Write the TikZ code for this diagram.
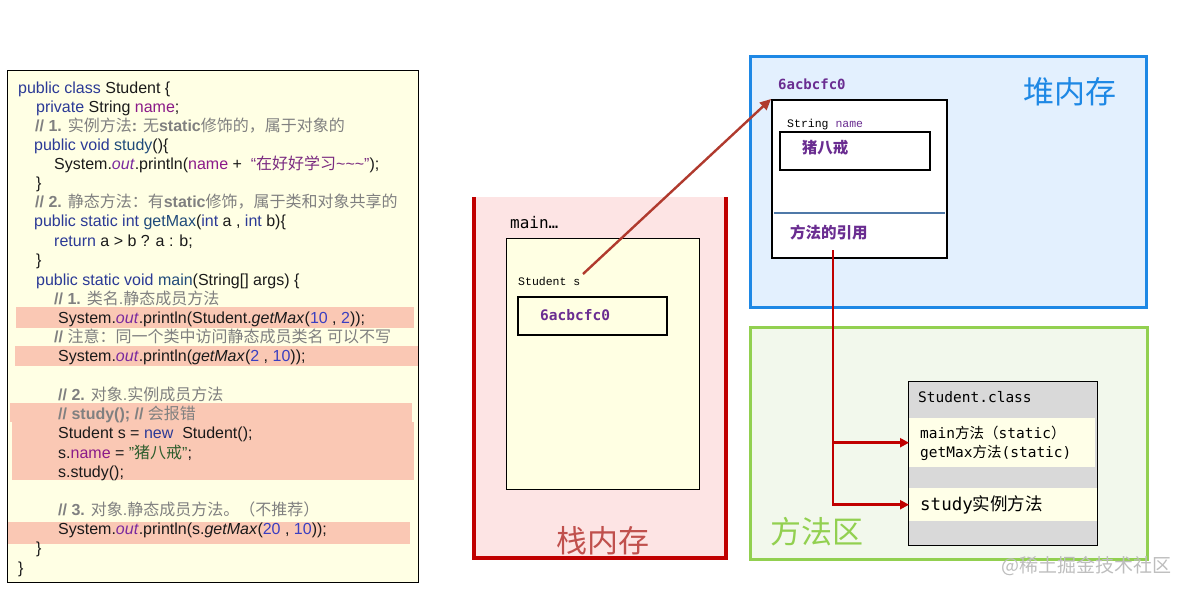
\documentclass[tikz,border=0pt]{standalone}
\usepackage{fontspec}
\setmainfont{Liberation Sans}
\setmonofont{DejaVu Sans Mono}
\newfontfamily\cjk{Noto Sans CJK SC}
\newfontfamily\lmono{Liberation Mono}
\usetikzlibrary{arrows.meta}
\definecolor{kwc}{HTML}{2B3A96}
\definecolor{mtc}{HTML}{1F4A7A}
\definecolor{flc}{HTML}{8B1A89}
\definecolor{otc}{HTML}{7A2A9E}
\definecolor{nmc}{HTML}{3B3FC0}
\definecolor{stc}{HTML}{7A2A80}
\definecolor{st2c}{HTML}{2E5E2E}
\definecolor{cmc}{HTML}{808080}
\definecolor{txtc}{HTML}{1A1A1A}
\definecolor{codebg}{HTML}{FFFFE4}
\definecolor{hilite}{HTML}{FAC8B4}
\definecolor{stackbg}{HTML}{FDE4E4}
\definecolor{stackred}{HTML}{C00000}
\definecolor{framebg}{HTML}{FFFFE3}
\definecolor{purp}{HTML}{6A2D91}
\definecolor{heapbg}{HTML}{E3F0FE}
\definecolor{heapblue}{HTML}{1E88E5}
\definecolor{sepblue}{HTML}{4F79A8}
\definecolor{methbg}{HTML}{F2F8EC}
\definecolor{methgreen}{HTML}{92D050}
\definecolor{classgray}{HTML}{D9D9D9}
\definecolor{bandbg}{HTML}{FFFFE8}
\definecolor{arrowred}{HTML}{B03A2E}
\definecolor{stacklbl}{HTML}{C0504D}
\definecolor{wmark}{HTML}{BDBDBD}
\newcommand\zh[1]{{\cjk #1}}
\newcommand\kw[1]{\textcolor{kwc}{#1}}
\newcommand\mt[1]{\textcolor{mtc}{#1}}
\newcommand\fl[1]{\textcolor{flc}{#1}}
\newcommand\ot{\textcolor{otc}{\textit{out}}}
\newcommand\nm[1]{\textcolor{nmc}{#1}}
\newcommand\cm[1]{\textcolor{cmc}{#1}}
\tikzset{
  codeline/.style={anchor=base west, inner sep=0pt, text=txtc, font=\fontsize{16}{19}\selectfont},
  hibar/.style={fill=hilite, draw=none},
  bigzh/.style={inner sep=0pt, font=\cjk\fontsize{31}{34}\selectfont},
  redline/.style={draw=stackred, line width=2.6pt},
  redarrow/.style={redline, -{Triangle[length=9pt,width=9pt]}},
  refarrow/.style={draw=arrowred, line width=2.4pt, -{Triangle[length=11pt,width=10pt]}},
  monotxt/.style={anchor=base west, inner sep=0pt},
  thickbox/.style={draw=black, line width=2pt, inner sep=0pt, anchor=north west},
}
\begin{document}
\begin{tikzpicture}[x=1pt,y=-1pt]
\useasboundingbox (0,0) rectangle (1185,594);

% ---------------- code panel ----------------
\filldraw[fill=codebg, draw=black, line width=0.8pt] (7,70) rectangle (418,582);
\fill[hibar] (16,307) rectangle (414,328);
\fill[hibar] (15,346) rectangle (418,366);
\fill[hibar] (10,403) rectangle (412,422);
\fill[hibar] (12,422) rectangle (414,480);
\fill[hibar] (8,522) rectangle (410,544);

\node[codeline] (c1) at (18,93) {\kw{public class} Student \{};
\node[codeline] (c2) at (36,112) {\kw{private} String \fl{name};};
\node[codeline] (c3) at (35,131) {\cm{\textbf{// 1.} \zh{实例方法}\textbf{:} \zh{无}\textbf{static}\zh{修饰的，属于对象的}}};
\node[codeline] (c4) at (34,150) {\kw{public void} \mt{study}()\{};
\node[codeline] (c5) at (54,169) {System.\ot.println(\fl{name} +\ \ \textcolor{stc}{“\zh{在好好学习}\textasciitilde\textasciitilde\textasciitilde”});};
\node[codeline] (c6) at (36,188) {\}};
\node[codeline] (c7) at (35,207) {\cm{\textbf{// 2.} \zh{静态方法：有}\textbf{static}\zh{修饰，属于类和对象共享的}}};
\node[codeline] (c8) at (34,226) {\kw{public static int} \mt{getMax}(\kw{int} a , \kw{int} b)\{};
\node[codeline] (c9) at (54,246) {\kw{return} a > b ? a : b;};
\node[codeline] (c10) at (36,265) {\}};
\node[codeline] (c11) at (36,285) {\kw{public static void} \mt{main}(String[] args) \{};
\node[codeline] (c12) at (54,304) {\cm{\textbf{// 1.} \zh{类名}.\zh{静态成员方法}}};
\node[codeline] (c13) at (58,323) {System.\ot.println(Student.\textit{getMax}(\nm{10} , \nm{2}));};
\node[codeline] (c14) at (54,342) {\cm{\textbf{//} \zh{注意：同一个类中访问静态成员类名 可以不写}}};
\node[codeline] (c15) at (58,361) {System.\ot.println(\textit{getMax}(\nm{2} , \nm{10}));};
\node[codeline] (c16) at (58,400) {\cm{\textbf{// 2.} \zh{对象}.\zh{实例成员方法}}};
\node[codeline] (c17) at (58,419) {\cm{\textbf{// study(); //} \zh{会报错}}};
\node[codeline] (c18) at (58,438) {Student s = \kw{new}\ \ Student();};
\node[codeline] (c19) at (58,458) {s.\fl{name} = \textcolor{st2c}{"\zh{猪八戒}"};};
\node[codeline] (c20) at (58,477) {s.study();};
\node[codeline] (c21) at (58,515) {\cm{\textbf{// 3.} \zh{对象}.\zh{静态成员方法。（不推荐）}}};
\node[codeline] (c22) at (58,534) {System.\ot.println(s.\textit{getMax}(\nm{20} , \nm{10}));};
\node[codeline] (c23) at (36,553) {\}};
\node[codeline] (c24) at (18,573) {\}};

% ---------------- stack ----------------
\fill[stackbg] (474,197) rectangle (726,558);
\draw[stackred, line width=3.5pt] (474,197) -- (474,558) -- (726,558) -- (726,197);
\node[monotxt, font=\ttfamily\fontsize{16}{18}\selectfont] (mainlbl) at (510,228) {main…};
\filldraw[fill=framebg, draw=black, line width=0.8pt] (506,238) rectangle (699,489);
\node[monotxt, font=\lmono\fontsize{11.5}{13}\selectfont] (svar) at (518,285) {Student s};
\node[thickbox, minimum width=149pt, minimum height=38pt] (sbox) at (517,296) {};
\node[monotxt, font=\ttfamily\bfseries\fontsize{14.5}{16}\selectfont, text=purp] (saddr) at (540,320) {6acbcfc0};
\node[bigzh, text=stacklbl] (stacklbl) at (603,541) {栈内存};
\coordinate (sref) at (583,274);

% ---------------- heap ----------------
\filldraw[fill=heapbg, draw=heapblue, line width=3pt] (750,57) rectangle (1146,307);
\node[monotxt, font=\ttfamily\bfseries\fontsize{14}{16}\selectfont, text=purp] (haddr) at (778,89) {6acbcfc0};
\node[bigzh, text=heapblue] (heaplbl) at (1070,92) {堆内存};
\node[thickbox, fill=white, minimum width=175pt, minimum height=158pt] (obj) at (771,99) {};
\node[monotxt, font=\lmono\fontsize{11.5}{13}\selectfont] (fname) at (787,127) {String \textcolor{purp}{name}};
\node[thickbox, minimum width=150pt, minimum height=38pt] (nbox) at (779,131) {};
\node[inner sep=0pt, font=\cjk\bfseries\fontsize{15.5}{17}\selectfont, text=purp] (nval) at (825,148) {猪八戒};
\draw[sepblue, line width=2.5pt] (774,213) -- (945,213);
\node[anchor=west, inner sep=0pt, font=\cjk\bfseries\fontsize{15.5}{17}\selectfont, text=purp] (mrefl) at (790,233) {方法的引用};
\coordinate (mref) at (833,250);

% ---------------- method area ----------------
\filldraw[fill=methbg, draw=methgreen, line width=3pt] (750,327) rectangle (1147,559);
\node[bigzh, text=methgreen] (methlbl) at (817,532) {方法区};
\filldraw[fill=classgray, draw=black, line width=0.8pt] (908,381) rectangle (1097,545);
\node[monotxt, font=\ttfamily\fontsize{14.5}{16}\selectfont] (clsname) at (918,402) {Student.class};
\node[fill=bandbg, inner sep=0pt, anchor=north west, minimum width=186pt, minimum height=49pt] (band1) at (909,418) {};
\node[monotxt, font=\ttfamily\fontsize{14.5}{16}\selectfont] (m1) at (920,438) {main\zh{方法（}static\zh{）}};
\node[monotxt, font=\ttfamily\fontsize{14.5}{16}\selectfont] (m2) at (920,457) {getMax\zh{方法}(static)};
\node[fill=bandbg, inner sep=0pt, anchor=north west, minimum width=188pt, minimum height=33pt] (band2) at (909,488) {};
\node[monotxt, font=\ttfamily\fontsize{17.5}{19}\selectfont] (m3) at (920,510) {study\zh{实例方法}};

% ---------------- connectors ----------------
\draw[refarrow] (sref) -- (obj.north west);
\draw[redline] (mref) -- (mref |- band2.west);
\draw[redarrow] (mref) |- (band1.west);
\draw[redarrow] (mref) |- (band2.west);

% watermark
\node[inner sep=0pt, font=\cjk\fontsize{19}{21}\selectfont, text=wmark] (wm) at (1086,566) {@稀土掘金技术社区};
\end{tikzpicture}
\end{document}
